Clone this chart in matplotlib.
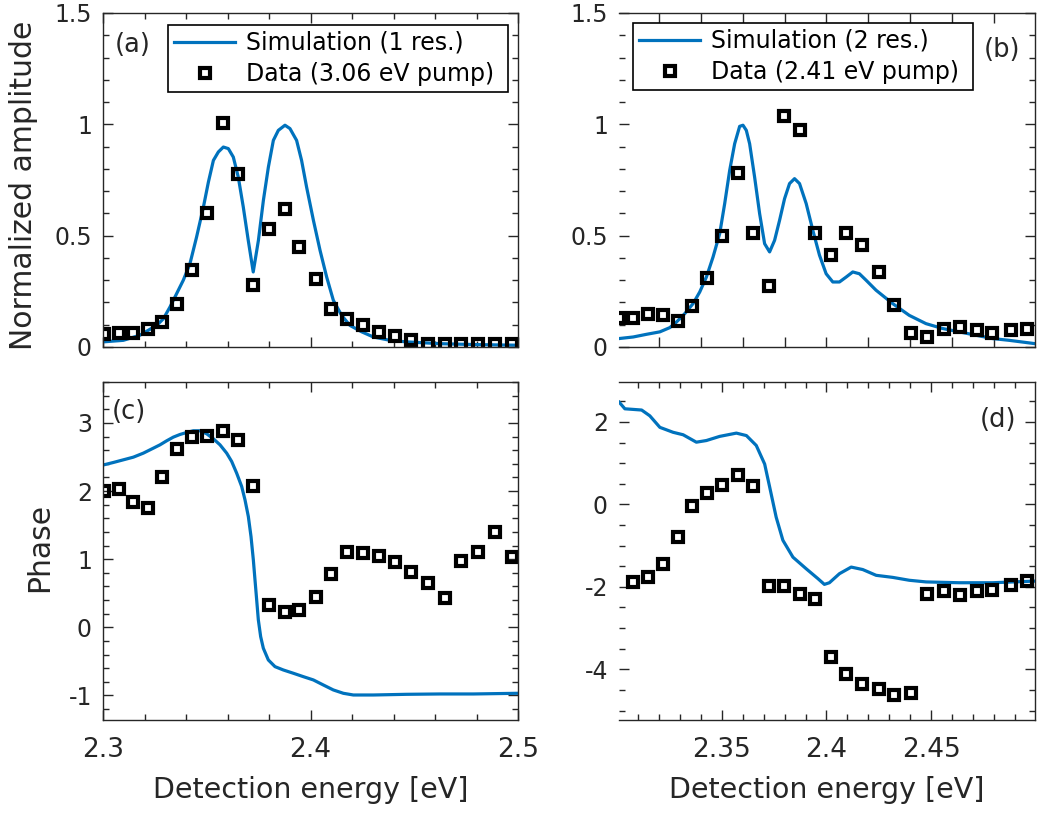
import matplotlib
matplotlib.use('Agg')
import matplotlib.pyplot as plt
from matplotlib.ticker import MultipleLocator, FixedLocator, FuncFormatter, NullFormatter

# ---------------- data ----------------
# Panels (a)/(c): measured points (3.06 eV pump)
energy_ac = [2.30048, 2.30779, 2.31438, 2.32160, 2.32867, 2.33590, 2.34297, 2.35012,
             2.35783, 2.36522, 2.37245, 2.38000, 2.38755, 2.39462, 2.40249, 2.40988,
             2.41743, 2.42530, 2.43309, 2.44088, 2.44859, 2.45663, 2.46466, 2.47269,
             2.48072, 2.48892, 2.49695]
amp_a_data = [0.060, 0.065, 0.065, 0.083, 0.112, 0.192, 0.347, 0.602, 1.007, 0.778,
              0.280, 0.532, 0.618, 0.449, 0.304, 0.172, 0.124, 0.100, 0.068, 0.048,
              0.030, 0.015, 0.015, 0.015, 0.015, 0.015, 0.015]
phase_c_data = [2.003, 2.032, 1.837, 1.749, 2.213, 2.615, 2.800, 2.810, 2.874, 2.752,
                2.076, 0.329, 0.222, 0.255, 0.451, 0.780, 1.112, 1.097, 1.053, 0.956,
                0.818, 0.656, 0.436, 0.975, 1.103, 1.405, 1.029]

# Panel (a): simulation (1 resonance)
sim_a_energy = [2.3000, 2.3098, 2.3178, 2.3218, 2.3259, 2.3291, 2.3323, 2.3355, 2.3387,
                2.3419, 2.3451, 2.3484, 2.3508, 2.3532, 2.3556, 2.3580, 2.3604, 2.3628,
                2.3652, 2.3676, 2.3700, 2.3724, 2.3749, 2.3773, 2.3797, 2.3821, 2.3845,
                2.3877, 2.3901, 2.3933, 2.3957, 2.3981, 2.4014, 2.4046, 2.4078, 2.4110,
                2.4150, 2.4190, 2.4247, 2.4303, 2.4383, 2.4463, 2.4624, 2.4785, 2.5000]
sim_a_amp = [0.023, 0.030, 0.053, 0.075, 0.097, 0.127, 0.180, 0.240, 0.300, 0.374,
             0.494, 0.629, 0.741, 0.838, 0.876, 0.898, 0.891, 0.853, 0.763, 0.629,
             0.479, 0.337, 0.479, 0.659, 0.808, 0.928, 0.973, 0.996, 0.981, 0.928,
             0.838, 0.719, 0.569, 0.434, 0.314, 0.210, 0.142, 0.097, 0.068, 0.045,
             0.030, 0.023, 0.015, 0.011, 0.008]

# Panel (c): simulation phase
sim_c_energy = [2.30048, 2.30498, 2.30980, 2.31462, 2.31944, 2.32426, 2.32747, 2.33068,
                2.33389, 2.33711, 2.34032, 2.34353, 2.34675, 2.34996, 2.35317, 2.35639,
                2.35960, 2.36201, 2.36442, 2.36683, 2.36843, 2.37004, 2.37133, 2.37245,
                2.37325, 2.37406, 2.37486, 2.37598, 2.37727, 2.37968, 2.38289, 2.38691,
                2.39173, 2.39655, 2.40137, 2.40618, 2.41100, 2.41582, 2.42064, 2.43028,
                2.44635, 2.46241, 2.47847, 2.50000]
sim_c_phase = [2.385, 2.419, 2.458, 2.497, 2.556, 2.629, 2.678, 2.737, 2.791, 2.830,
               2.859, 2.884, 2.884, 2.840, 2.767, 2.678, 2.556, 2.434, 2.262, 2.067,
               1.871, 1.626, 1.332, 0.990, 0.696, 0.402, 0.109, -0.136, -0.307, -0.479,
               -0.577, -0.626, -0.674, -0.724, -0.772, -0.846, -0.919, -0.968, -0.993,
               -0.993, -0.983, -0.978, -0.978, -0.968]

# Panels (b)/(d): measured points (2.41 eV pump)
energy_bd = [2.30111, 2.30746, 2.31492, 2.32206, 2.32920, 2.33603, 2.34317, 2.35032,
             2.35778, 2.36492, 2.37238, 2.37968, 2.38714, 2.39429, 2.40222, 2.40937,
             2.41698, 2.42492, 2.43238, 2.44032, 2.44794, 2.45587, 2.46381, 2.47175,
             2.47920, 2.48794, 2.49587]
amp_b_data = [0.128, 0.132, 0.150, 0.142, 0.117, 0.183, 0.310, 0.500, 0.783, 0.510,
              0.272, 1.036, 0.973, 0.510, 0.415, 0.512, 0.460, 0.337, 0.190, 0.065,
              0.045, 0.083, 0.090, 0.078, 0.065, 0.078, 0.083]
energy_d = [2.30746, 2.31492, 2.32206, 2.32920, 2.33603, 2.34317, 2.35032, 2.35778,
            2.36492, 2.37238, 2.37968, 2.38714, 2.39429, 2.40222, 2.40937, 2.41698,
            2.42492, 2.43238, 2.44032, 2.44794, 2.45587, 2.46381, 2.47175, 2.47920,
            2.48794, 2.49587]
phase_d_data = [-1.879, -1.772, -1.449, -0.801, -0.041, 0.282, 0.468, 0.711, 0.444,
                -1.976, -1.976, -2.184, -2.306, -3.699, -4.119, -4.362, -4.466, -4.629,
                -4.587, -2.177, -2.104, -2.201, -2.104, -2.080, -1.959, -1.862]

# Panel (b): simulation (2 resonances)
sim_b_energy = [2.30111, 2.30778, 2.31413, 2.32048, 2.32524, 2.32841, 2.33238, 2.33635,
                2.33952, 2.34270, 2.34587, 2.34905, 2.35143, 2.35381, 2.35619, 2.35857,
                2.36016, 2.36175, 2.36333, 2.36571, 2.36810, 2.37048, 2.37286, 2.37524,
                2.37762, 2.38000, 2.38238, 2.38476, 2.38714, 2.39032, 2.39349, 2.39667,
                2.39984, 2.40302, 2.40619, 2.40937, 2.41254, 2.41571, 2.41889, 2.42365,
                2.43159, 2.43952, 2.44746, 2.45540, 2.46333, 2.47127, 2.47920, 2.48714,
                2.49952]
sim_b_amp = [0.038, 0.045, 0.057, 0.068, 0.087, 0.112, 0.150, 0.195, 0.247, 0.314,
             0.404, 0.509, 0.644, 0.793, 0.913, 0.991, 0.996, 0.973, 0.913, 0.763,
             0.599, 0.464, 0.427, 0.479, 0.569, 0.666, 0.734, 0.756, 0.734, 0.644,
             0.524, 0.412, 0.329, 0.292, 0.292, 0.314, 0.337, 0.329, 0.300, 0.255,
             0.195, 0.142, 0.105, 0.083, 0.068, 0.053, 0.038, 0.030, 0.015]

# Panel (d): simulation phase
sim_d_energy = [2.3011, 2.3038, 2.3118, 2.3157, 2.3205, 2.3268, 2.3316, 2.3379, 2.3427,
                2.3490, 2.3570, 2.3618, 2.3665, 2.3705, 2.3729, 2.3760, 2.3792, 2.3840,
                2.3903, 2.3959, 2.3990, 2.4014, 2.4062, 2.4118, 2.4173, 2.4237, 2.4316,
                2.4395, 2.4475, 2.4633, 2.4792, 2.4995]
sim_d_phase = [2.48, 2.32, 2.29, 2.15, 1.87, 1.75, 1.69, 1.51, 1.55, 1.65, 1.73, 1.67,
               1.43, 0.98, 0.42, -0.31, -0.87, -1.28, -1.56, -1.80, -1.94, -1.90, -1.68,
               -1.52, -1.58, -1.72, -1.77, -1.84, -1.88, -1.90, -1.90, -1.86]

# ---------------- figure ----------------
W, H = 1037, 815
fig = plt.figure(figsize=(W / 100, H / 100), dpi=100)
plt.rcParams['font.family'] = ['DejaVu Sans']

GRAY = '#262626'
BLUE = '#0072BD'


def axes_px(l, t, r, b):
    return fig.add_axes([l / W, 1 - b / H, (r - l) / W, (b - t) / H])


axA = axes_px(103, 13, 518, 347)
axB = axes_px(619, 13, 1035, 347)
axC = axes_px(103, 382, 518, 720)
axD = axes_px(619, 382, 1035, 720)

fmt = FuncFormatter(lambda v, p: '%g' % round(v, 4))


def style(ax):
    for s in ax.spines.values():
        s.set_color(GRAY)
        s.set_linewidth(1.0)
    ax.tick_params(which='both', direction='in', top=True, right=True,
                   color=GRAY, labelcolor=GRAY)
    ax.tick_params(which='major', length=7, width=1.0)
    ax.tick_params(which='minor', length=4, width=1.0)
    ax.tick_params(axis='y', labelsize=17, pad=8)
    ax.tick_params(axis='x', labelsize=19, pad=12)


line_kw = dict(color=BLUE, lw=2.3, solid_joinstyle='round')
mark_kw = dict(ls='none', marker='s', ms=7.2, mew=3.0, mec='black', mfc='none')

# (a)
axA.plot(sim_a_energy, sim_a_amp, label='Simulation (1 res.)', **line_kw)
axA.plot(energy_ac, amp_a_data, label='Data (3.06 eV pump)', **mark_kw)
# (b)
axB.plot(sim_b_energy, sim_b_amp, label='Simulation (2 res.)', **line_kw)
axB.plot(energy_bd, amp_b_data, label='Data (2.41 eV pump)', **mark_kw)
# (c)
axC.plot(sim_c_energy, sim_c_phase, **line_kw)
axC.plot(energy_ac, phase_c_data, **mark_kw)
# (d)
axD.plot(sim_d_energy, sim_d_phase, **line_kw)
axD.plot(energy_d, phase_d_data, **mark_kw)

for ax in (axA, axB, axC, axD):
    style(ax)

# x axes
for ax in (axA, axC):
    ax.set_xlim(2.3, 2.5)
    ax.xaxis.set_major_locator(FixedLocator([2.3, 2.4, 2.5]))
    ax.xaxis.set_minor_locator(MultipleLocator(0.02))
axA.xaxis.set_major_formatter(NullFormatter())
axC.xaxis.set_major_formatter(fmt)

for ax in (axB, axD):
    ax.set_xlim(2.301, 2.4995)
    ax.spines['left'].set_visible(False)
axB.xaxis.set_major_locator(FixedLocator([2.32, 2.34, 2.36, 2.38, 2.40, 2.42, 2.44, 2.46, 2.48]))
axB.xaxis.set_major_formatter(NullFormatter())
axD.xaxis.set_major_locator(FixedLocator([2.35, 2.40, 2.45]))
axD.xaxis.set_minor_locator(MultipleLocator(0.01))
axD.xaxis.set_major_formatter(fmt)

# y axes
for ax in (axA, axB):
    ax.set_ylim(0, 1.5)
    ax.yaxis.set_major_locator(MultipleLocator(0.5))
    ax.yaxis.set_minor_locator(MultipleLocator(0.1))
    ax.yaxis.set_major_formatter(fmt)
axC.set_ylim(-1.36, 3.6)
axC.yaxis.set_major_locator(MultipleLocator(1))
axC.yaxis.set_minor_locator(MultipleLocator(0.2))
axC.yaxis.set_major_formatter(fmt)
axD.set_ylim(-5.23, 2.97)
axD.yaxis.set_major_locator(MultipleLocator(2))
axD.yaxis.set_minor_locator(MultipleLocator(0.5))
axD.yaxis.set_major_formatter(fmt)

# labels
axA.set_ylabel('Normalized amplitude', fontsize=21.5, color=GRAY, va='center')
axA.yaxis.set_label_coords(-0.191, 0.485)
axC.set_ylabel('Phase', fontsize=21.5, color=GRAY, va='center')
axC.yaxis.set_label_coords(-0.153, 0.51)
for ax in (axC, axD):
    ax.set_xlabel('Detection energy [eV]', fontsize=20.5, color=GRAY)
    ax.xaxis.set_label_coords(0.5, -0.165)

# panel letters
for ax, txt, x, y in ((axA, '(a)', 0.072, 0.904), (axB, '(b)', 0.921, 0.889),
                      (axC, '(c)', 0.063, 0.911), (axD, '(d)', 0.911, 0.888)):
    ax.text(x, y, txt, transform=ax.transAxes, ha='center', va='center',
            fontsize=18.5, color=GRAY)

# legends
leg_kw = dict(loc='upper left', mode='expand', fontsize=17, frameon=True, fancybox=False,
              edgecolor='black', framealpha=1, borderpad=0.25, labelspacing=0.3,
              handlelength=2.6, handletextpad=0.45, borderaxespad=0, numpoints=1)
legA = axA.legend(bbox_to_anchor=(0.157, 0.964, 0.976 - 0.157, 0.0), **leg_kw)
legB = axB.legend(bbox_to_anchor=(0.034, 0.970, 0.851 - 0.034, 0.0), **leg_kw)
for leg in (legA, legB):
    leg.get_frame().set_linewidth(1.2)

fig.savefig('out.png', dpi=100)
